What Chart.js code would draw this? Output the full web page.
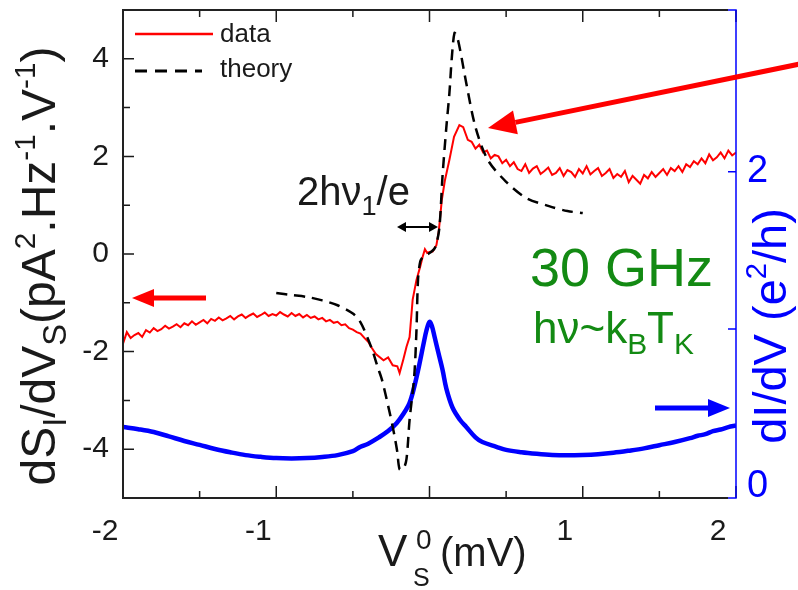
<!DOCTYPE html>
<html>
<head>
<meta charset="utf-8">
<script src="https://cdn.jsdelivr.net/npm/chart.js@4.4.1/dist/chart.umd.min.js"></script>
<style>
  html, body { margin: 0; padding: 0; background: #fff; }
</style>
</head>
<body>
<canvas id="noiseChart" width="798" height="590"></canvas>
<script>
// ===== DATA =====
// measured dS_I/dV_S (left axis)
const redV = [
  -2.000, -1.975, -1.950, -1.925, -1.900, -1.875, -1.850, -1.825, -1.800, -1.775,
  -1.750, -1.725, -1.700, -1.675, -1.650, -1.625, -1.600, -1.575, -1.550, -1.525,
  -1.500, -1.475, -1.450, -1.425, -1.400, -1.375, -1.350, -1.325, -1.300, -1.275,
  -1.250, -1.225, -1.200, -1.175, -1.150, -1.125, -1.100, -1.075, -1.050, -1.025,
  -1.000, -0.975, -0.950, -0.925, -0.900, -0.875, -0.850, -0.825, -0.800, -0.775,
  -0.750, -0.725, -0.700, -0.675, -0.650, -0.625, -0.600, -0.575, -0.550, -0.525,
  -0.500, -0.475, -0.450, -0.425, -0.400, -0.375, -0.350,
  -0.300, -0.270, -0.240, -0.210, -0.195, -0.170, -0.150, -0.130, -0.110, -0.085,
  -0.060, -0.045, -0.030, -0.015, 0.000, 0.020, 0.045, 0.060, 0.080, 0.100,
  0.130, 0.160, 0.195, 0.220, 0.250, 0.275,
  0.300, 0.325, 0.350, 0.375, 0.400, 0.425, 0.450, 0.475, 0.500, 0.525,
  0.550, 0.575, 0.600, 0.625, 0.650, 0.675, 0.700, 0.725, 0.750, 0.775,
  0.800, 0.825, 0.850, 0.875, 0.900, 0.925, 0.950, 0.975, 1.000, 1.025,
  1.050, 1.075, 1.100, 1.125, 1.150, 1.175, 1.200, 1.225, 1.250, 1.275,
  1.300, 1.325, 1.350, 1.375, 1.400, 1.425, 1.450, 1.475, 1.500, 1.525,
  1.550, 1.575, 1.600, 1.625, 1.650, 1.675, 1.700, 1.725, 1.750, 1.775,
  1.800, 1.825, 1.850, 1.875, 1.900, 1.925, 1.950, 1.975, 2.000];
const redS = [
  -1.84, -1.60, -1.72, -1.66, -1.62, -1.70, -1.56, -1.61, -1.52, -1.58,
  -1.54, -1.47, -1.53, -1.49, -1.44, -1.50, -1.42, -1.46, -1.38, -1.45,
  -1.40, -1.35, -1.42, -1.33, -1.37, -1.30, -1.36, -1.32, -1.27, -1.34,
  -1.28, -1.24, -1.31, -1.26, -1.22, -1.29, -1.25, -1.20, -1.27, -1.23,
  -1.26, -1.19, -1.24, -1.28, -1.21, -1.27, -1.23, -1.30, -1.25, -1.31,
  -1.28, -1.34, -1.31, -1.38, -1.35, -1.41, -1.39, -1.46, -1.44, -1.52,
  -1.55, -1.60, -1.63, -1.72, -1.80, -1.93, -2.05,
  -2.18, -2.12, -2.28, -2.30, -2.44, -2.15, -1.90, -1.70, -0.94, -0.53,
  -0.25, -0.06, 0.10, 0.02, 0.04, 0.05, 0.18, 0.45, 1.10, 1.50,
  1.93, 2.40, 2.64, 2.60, 2.34, 2.30,
  2.16, 2.24, 2.08, 2.12, 1.96, 2.03, 2.00, 1.86, 1.93, 1.80,
  1.88, 1.74, 1.70, 1.84, 1.66, 1.75, 1.80, 1.64, 1.70, 1.77,
  1.62, 1.66, 1.76, 1.60, 1.72, 1.68, 1.58, 1.74, 1.65, 1.80,
  1.63, 1.70, 1.76, 1.60, 1.66, 1.74, 1.56, 1.64, 1.58, 1.70,
  1.47, 1.60, 1.52, 1.44, 1.62, 1.55, 1.68, 1.58, 1.66, 1.74,
  1.62, 1.76, 1.70, 1.80, 1.68, 1.84, 1.78, 1.90, 1.84, 1.96,
  1.86, 2.04, 1.92, 1.98, 2.08, 1.96, 2.12, 2.02, 2.08];

// theory curve (left axis)
const theoryV = [-1.00, -0.90, -0.80, -0.70, -0.60, -0.50, -0.45, -0.40, -0.37, -0.34,
  -0.31, -0.26, -0.23, -0.21, -0.195, -0.17, -0.15, -0.13, -0.10, -0.085,
  -0.075, -0.06, -0.04, -0.02, 0.00, 0.03, 0.045, 0.065, 0.085, 0.11,
  0.13, 0.145, 0.163, 0.18, 0.20, 0.24, 0.30, 0.38, 0.50, 0.63,
  0.78, 0.90, 1.00];
const theoryS = [-0.80, -0.84, -0.88, -0.95, -1.05, -1.22, -1.40, -1.75, -2.00, -2.30,
  -2.58, -3.25, -3.70, -4.06, -4.41, -4.40, -4.20, -3.40, -2.52, -1.56,
  -0.53, -0.15, -0.05, -0.02, 0.02, 0.10, 0.20, 0.55, 1.60, 2.60,
  3.30, 4.00, 4.53, 4.45, 4.18, 3.50, 2.60, 1.93, 1.48, 1.15,
  0.98, 0.88, 0.84];

// differential conductance dI/dV in e^2/h (right axis)
const blueV = [-2.0, -1.9, -1.8, -1.7, -1.6, -1.5, -1.4, -1.3, -1.2, -1.1,
  -1.0, -0.9, -0.8, -0.7, -0.6, -0.5, -0.45, -0.4, -0.33, -0.27,
  -0.215, -0.17, -0.13, -0.10, -0.065, -0.04, -0.02, 0.0, 0.015, 0.033,
  0.06, 0.085, 0.11, 0.15, 0.20, 0.24, 0.30, 0.345, 0.436, 0.5,
  0.6, 0.7, 0.8, 0.9, 1.0, 1.1, 1.2, 1.3, 1.4, 1.5,
  1.6, 1.7, 1.75, 1.8, 1.85, 1.9, 1.95, 2.0];
const blueG = [0.376, 0.362, 0.344, 0.316, 0.287, 0.262, 0.236, 0.215, 0.197, 0.186,
  0.178, 0.176, 0.178, 0.185, 0.197, 0.222, 0.25, 0.27, 0.31, 0.35,
  0.40, 0.46, 0.53, 0.63, 0.78, 0.90, 0.99, 1.045, 1.02, 0.95,
  0.84, 0.74, 0.62, 0.50, 0.42, 0.376, 0.31, 0.28, 0.25, 0.23,
  0.215, 0.205, 0.198, 0.196, 0.198, 0.203, 0.212, 0.225, 0.24, 0.26,
  0.28, 0.305, 0.32, 0.33, 0.35, 0.36, 0.375, 0.385];

// ticks
const vTicks = [-2, -1.5, -1, -0.5, 0, 0.5, 1, 1.5, 2];
const vLabels = [-2, -1, 1, 2];
const sTicks = [-5, -4, -3, -2, -1, 0, 1, 2, 3, 4, 5];
const sLabels = [-4, -2, 0, 2, 4];
const gTicks = [0, 1, 2];
const gLabels = [0, 2];

const FONT = "'Liberation Sans', Arial, Helvetica, sans-serif";
const RED = "#ff0000";
const BLUE = "#0000ff";
const GREEN = "#138a13";
const INK = "#1a1a1a";

const pts = (xs, ys) => xs.map((x, i) => ({ x: x, y: ys[i] }));

// fixed box sizes so the plot area sits where it should
function fixBox(size, key) {
  return scale => {
    scale[key] = size;
    scale.paddingTop = 0;
    scale.paddingBottom = 0;
    scale.paddingLeft = 0;
    scale.paddingRight = 0;
  };
}

// ===== TEXT HELPERS =====
// runs: [text, kind] with kind "n" | "sub" | "sup"
function runFont(kind, size) {
  if (kind === "sub") return size * 0.68;
  if (kind === "sup") return size * 0.62;
  return size;
}
function richWidth(ctx, runs, size) {
  let w = 0;
  runs.forEach(([t, k]) => {
    ctx.font = runFont(k, size) + "px " + FONT;
    w += ctx.measureText(t).width;
  });
  return w;
}
function drawRich(ctx, runs, x, y, size) {
  let cx = x;
  ctx.textBaseline = "alphabetic";
  ctx.textAlign = "left";
  runs.forEach(([t, k]) => {
    ctx.font = runFont(k, size) + "px " + FONT;
    let dy = 0;
    if (k === "sub") dy = size * 0.24;
    if (k === "sup") dy = -size * 0.42;
    ctx.fillText(t, cx, y + dy);
    cx += ctx.measureText(t).width;
  });
}
function drawRotated(ctx, runs, cx, cy, size, color) {
  ctx.save();
  ctx.fillStyle = color;
  ctx.translate(cx, cy);
  ctx.rotate(-Math.PI / 2);
  const w = richWidth(ctx, runs, size);
  drawRich(ctx, runs, -w / 2, size * 0.27, size);
  ctx.restore();
}

function arrow(ctx, x1, y1, x2, y2, color, lw, headLen, headHalf) {
  const a = Math.atan2(y2 - y1, x2 - x1);
  const bx = x2 - Math.cos(a) * headLen;
  const by = y2 - Math.sin(a) * headLen;
  ctx.save();
  ctx.strokeStyle = color;
  ctx.fillStyle = color;
  ctx.lineWidth = lw;
  ctx.beginPath();
  ctx.moveTo(x1, y1);
  ctx.lineTo(bx, by);
  ctx.stroke();
  ctx.beginPath();
  ctx.moveTo(x2, y2);
  ctx.lineTo(bx - Math.sin(a) * headHalf, by + Math.cos(a) * headHalf);
  ctx.lineTo(bx + Math.sin(a) * headHalf, by - Math.cos(a) * headHalf);
  ctx.closePath();
  ctx.fill();
  ctx.restore();
}

// ===== FRAME, TICKS, TITLES, NOTES =====
const decorations = {
  id: "decorations",
  afterDatasetsDraw(chart) {
    const ctx = chart.ctx;
    const { left, right, top, bottom } = chart.chartArea;
    const x = chart.scales.x, y = chart.scales.y, y2 = chart.scales.y2;

    ctx.save();
    // inward tick marks
    ctx.strokeStyle = INK;
    ctx.lineWidth = 1.5;
    ctx.beginPath();
    vTicks.forEach(v => {
      const px = x.getPixelForValue(v);
      const len = Number.isInteger(v) ? 12 : 7;
      ctx.moveTo(px, bottom); ctx.lineTo(px, bottom - len);
      ctx.moveTo(px, top); ctx.lineTo(px, top + len);
    });
    sTicks.forEach(v => {
      const py = y.getPixelForValue(v);
      const len = v % 2 === 0 ? 11 : 7;
      ctx.moveTo(left, py); ctx.lineTo(left + len, py);
    });
    ctx.stroke();
    ctx.strokeStyle = BLUE;
    ctx.beginPath();
    gTicks.slice(1).forEach(v => {
      const py = y2.getPixelForValue(v);
      ctx.moveTo(right, py); ctx.lineTo(right - 8, py);
    });
    ctx.stroke();

    // frame
    ctx.lineWidth = 2;
    ctx.strokeStyle = "#222";
    ctx.beginPath();
    ctx.moveTo(right - 8, top); ctx.lineTo(left, top);
    ctx.lineTo(left, bottom); ctx.lineTo(right - 8, bottom);
    ctx.stroke();
    ctx.strokeStyle = BLUE;
    ctx.lineWidth = 1.5;
    ctx.beginPath();
    ctx.moveTo(right - 8, top); ctx.lineTo(right, top);
    ctx.lineTo(right, bottom); ctx.lineTo(right - 8, bottom);
    ctx.stroke();

    // legend
    ctx.lineWidth = 2.5;
    ctx.strokeStyle = RED;
    ctx.beginPath(); ctx.moveTo(135, 34); ctx.lineTo(213, 34); ctx.stroke();
    ctx.strokeStyle = "#000";
    ctx.lineWidth = 3;
    ctx.setLineDash([12, 8]);
    ctx.beginPath(); ctx.moveTo(135, 71); ctx.lineTo(202, 71); ctx.stroke();
    ctx.setLineDash([]);
    ctx.fillStyle = INK;
    ctx.font = "26px " + FONT;
    ctx.textBaseline = "middle";
    ctx.textAlign = "left";
    ctx.fillText("data", 220, 35);
    ctx.fillText("theory", 220, 70);

    // 2hv1/e spacing marker
    ctx.fillStyle = INK;
    drawRich(ctx, [["2hν", "n"], ["1", "sub"], ["/e", "n"]], 297, 205, 40);
    arrow(ctx, 407, 227, 397, 227, "#000", 2, 9, 5);
    arrow(ctx, 407, 227, 438, 227, "#000", 2, 9, 5);

    // frequency notes
    ctx.fillStyle = GREEN;
    ctx.font = "54px " + FONT;
    ctx.textBaseline = "alphabetic";
    ctx.fillText("30 GHz", 530, 286);
    drawRich(ctx, [["hν~k", "n"], ["B", "sub"], ["T", "n"], ["K", "sub"]], 533, 343, 44);

    // axis pointers
    arrow(ctx, 800, 64, 488, 128, RED, 5, 28, 12);
    arrow(ctx, 206, 298, 132, 298, RED, 5, 22, 9);
    arrow(ctx, 655, 408, 730, 408, BLUE, 5, 22, 9);

    // axis titles
    drawRotated(ctx, [["dS", "n"], ["I", "sub"], ["/dV", "n"], ["S", "sub"], ["(pA", "n"],
      ["2", "sup"], [".Hz", "n"], ["-1", "sup"], [".V", "n"], ["-1", "sup"], [")", "n"]],
      42, 266, 48, INK);
    drawRotated(ctx, [["dI/dV (e", "n"], ["2", "sup"], ["/h)", "n"]], 773, 326, 47, BLUE);

    ctx.fillStyle = INK;
    ctx.textBaseline = "alphabetic";
    ctx.font = "44px " + FONT;
    ctx.fillText("V", 378, 566);
    ctx.font = "28px " + FONT;
    ctx.fillText("0", 416, 549);
    ctx.font = "25px " + FONT;
    ctx.fillText("S", 413, 586);
    ctx.font = "40px " + FONT;
    ctx.fillText("(mV)", 440, 566);
    ctx.restore();
  }
};

// ===== CHART SETUP =====
const noiseChart = new Chart(document.getElementById("noiseChart"), {
  type: "scatter",
  data: {
    datasets: [
      {
        label: "theory",
        data: pts(theoryV, theoryS),
        yAxisID: "y",
        showLine: true,
        borderColor: "#000",
        borderWidth: 2.5,
        borderDash: [11, 7],
        tension: 0.3,
        pointRadius: 0
      },
      {
        label: "data",
        data: pts(redV, redS),
        yAxisID: "y",
        showLine: true,
        borderColor: RED,
        borderWidth: 2,
        tension: 0,
        pointRadius: 0
      },
      {
        label: "dI/dV",
        data: pts(blueV, blueG),
        yAxisID: "y2",
        showLine: true,
        borderColor: BLUE,
        borderWidth: 4.5,
        tension: 0.35,
        pointRadius: 0
      }
    ]
  },
  options: {
    responsive: false,
    devicePixelRatio: 1,
    animation: false,
    layout: { padding: { top: 10, left: 0, right: 0, bottom: 0 } },
    plugins: { legend: { display: false }, tooltip: { enabled: false } },
    scales: {
      x: {
        type: "linear",
        min: -2,
        max: 2,
        afterFit: fixBox(92, "height"),
        afterBuildTicks(scale) { scale.ticks = vTicks.map(v => ({ value: v })); },
        grid: { display: false, drawTicks: false },
        border: { display: false },
        ticks: {
          autoSkip: false,
          maxRotation: 0,
          padding: 16,
          labelOffset: -18,
          color: INK,
          font: { family: FONT, size: 30 },
          callback: v => (vLabels.includes(v) ? String(v) : "")
        }
      },
      y: {
        type: "linear",
        position: "left",
        min: -5,
        max: 5,
        afterFit: fixBox(123, "width"),
        afterBuildTicks(scale) { scale.ticks = sTicks.map(v => ({ value: v })); },
        grid: { display: false, drawTicks: false },
        border: { display: false },
        ticks: {
          autoSkip: false,
          padding: 14,
          color: INK,
          font: { family: FONT, size: 30 },
          callback: v => (sLabels.includes(v) ? String(v) : "")
        }
      },
      y2: {
        type: "linear",
        position: "right",
        min: -0.076,
        max: 3.03,
        afterFit: fixBox(62, "width"),
        afterBuildTicks(scale) { scale.ticks = gTicks.map(v => ({ value: v })); },
        grid: { display: false, drawTicks: false },
        border: { display: false },
        ticks: {
          autoSkip: false,
          padding: 11,
          color: BLUE,
          font: { family: FONT, size: 38 },
          callback: v => (gLabels.includes(v) ? String(v) : "")
        }
      }
    }
  },
  plugins: [decorations]
});
</script>
</body>
</html>
